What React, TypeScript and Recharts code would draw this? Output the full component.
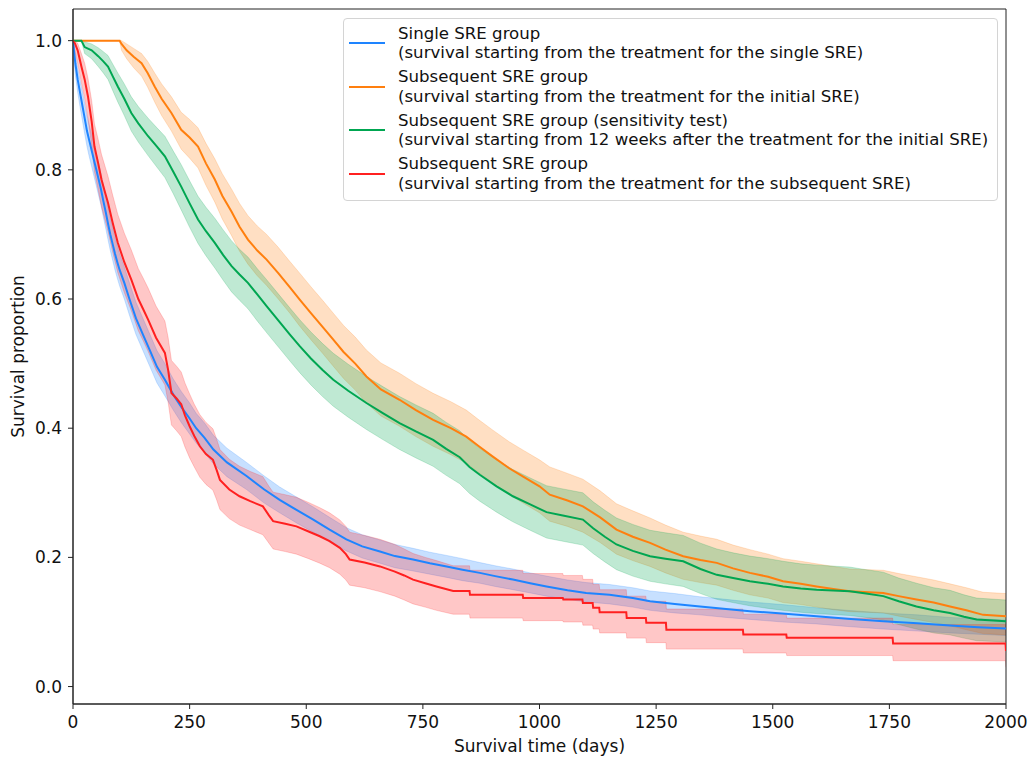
import React from 'react';
import { ComposedChart, Line, Area, XAxis, YAxis, ReferenceArea } from 'recharts';

const xTicks = [0, 250, 500, 750, 1000, 1250, 1500, 1750, 2000];
const yTicks = [0, 0.2, 0.4, 0.6, 0.8, 1.0];
const Y_MIN = -0.027;
const Y_MAX = 1.049;

// Single SRE group
const singleTimes = [0,2,5,10,15,20,25,30,35,40,45,50,55,60,65,70,75,80,85,90,95,100,110,121,135,150,165,180,197,215,232,250,264,282,301,330,372,410,443,480,515,550,586,620,658,690,729,765,801,835,872,905,943,980,1015,1060,1100,1150,1200,1237,1290,1344,1400,1451,1520,1594,1660,1737,1810,1880,1940,2000];
const singleSurv = [1.0,0.985,0.965,0.94,0.92,0.9,0.88,0.86,0.845,0.83,0.815,0.8,0.785,0.77,0.752,0.735,0.717,0.7,0.685,0.67,0.657,0.645,0.625,0.6,0.57,0.545,0.52,0.495,0.475,0.452,0.433,0.415,0.4,0.385,0.367,0.347,0.326,0.305,0.289,0.273,0.2585,0.243,0.228,0.217,0.209,0.202,0.1966,0.191,0.186,0.181,0.176,0.171,0.1656,0.16,0.155,0.149,0.145,0.142,0.137,0.132,0.128,0.124,0.12,0.1166,0.113,0.109,0.105,0.101,0.098,0.0944,0.092,0.09];
const singleLower = [1.0,0.97,0.947,0.92,0.898,0.877,0.856,0.836,0.82,0.805,0.79,0.775,0.76,0.745,0.727,0.71,0.692,0.675,0.66,0.645,0.632,0.62,0.6,0.575,0.545,0.52,0.495,0.47,0.45,0.428,0.409,0.391,0.377,0.362,0.345,0.325,0.305,0.284,0.269,0.253,0.239,0.224,0.21,0.199,0.191,0.184,0.179,0.174,0.169,0.164,0.16,0.155,0.15,0.145,0.14,0.135,0.131,0.128,0.123,0.118,0.114,0.111,0.107,0.104,0.1,0.097,0.093,0.089,0.086,0.083,0.081,0.079];
const singleUpper = [1.0,0.995,0.98,0.958,0.94,0.922,0.903,0.884,0.869,0.855,0.84,0.825,0.81,0.795,0.777,0.76,0.742,0.725,0.71,0.695,0.682,0.67,0.65,0.625,0.595,0.57,0.545,0.52,0.5,0.476,0.457,0.439,0.423,0.408,0.389,0.369,0.347,0.326,0.309,0.293,0.278,0.262,0.246,0.235,0.227,0.22,0.214,0.208,0.203,0.198,0.192,0.187,0.182,0.176,0.171,0.165,0.161,0.158,0.153,0.148,0.144,0.139,0.135,0.131,0.127,0.122,0.118,0.114,0.111,0.107,0.105,0.103];

// Subsequent SRE group, from initial SRE
const initialTimes = [0,100,104,115,130,147,160,175,190,211,232,250,268,285,304,320,340,357,375,395,415,440,465,486,510,535,558,580,605,629,660,700,735,772,810,843,870,900,935,965,1000,1022,1060,1093,1130,1165,1200,1237,1270,1308,1345,1380,1415,1451,1490,1522,1560,1594,1630,1665,1737,1770,1808,1845,1880,1915,1951,2000];
const initialSurv = [1.0,1.0,0.995,0.985,0.975,0.965,0.95,0.929,0.91,0.888,0.862,0.85,0.836,0.81,0.785,0.76,0.735,0.712,0.692,0.675,0.661,0.64,0.618,0.599,0.578,0.557,0.537,0.518,0.5,0.48,0.46,0.444,0.428,0.413,0.4,0.387,0.372,0.356,0.338,0.325,0.31,0.297,0.288,0.279,0.262,0.243,0.232,0.2224,0.212,0.2017,0.196,0.1915,0.183,0.176,0.17,0.163,0.159,0.155,0.151,0.1475,0.145,0.14,0.1347,0.13,0.124,0.118,0.111,0.109];
const initialLower = [1.0,1.0,0.985,0.972,0.958,0.945,0.928,0.905,0.884,0.86,0.832,0.818,0.803,0.776,0.75,0.724,0.698,0.674,0.654,0.636,0.621,0.6,0.578,0.558,0.537,0.516,0.496,0.477,0.459,0.439,0.419,0.403,0.387,0.372,0.359,0.346,0.331,0.315,0.297,0.284,0.269,0.256,0.248,0.239,0.223,0.205,0.195,0.186,0.176,0.166,0.161,0.157,0.149,0.142,0.137,0.13,0.127,0.123,0.119,0.116,0.114,0.109,0.104,0.099,0.094,0.088,0.082,0.08];
const initialUpper = [1.0,1.0,1.0,0.995,0.988,0.98,0.968,0.95,0.933,0.913,0.889,0.878,0.865,0.841,0.817,0.794,0.77,0.748,0.729,0.713,0.7,0.68,0.658,0.64,0.619,0.598,0.578,0.559,0.541,0.521,0.501,0.485,0.469,0.454,0.441,0.428,0.413,0.397,0.379,0.366,0.351,0.34,0.33,0.321,0.303,0.283,0.272,0.261,0.25,0.239,0.233,0.228,0.219,0.212,0.205,0.198,0.194,0.19,0.186,0.182,0.18,0.175,0.17,0.165,0.159,0.153,0.146,0.144];

// Subsequent SRE group, sensitivity test
const sensTimes = [0,18,25,40,54,65,75,85,96,110,125,140,161,180,197,215,232,250,268,285,304,322,340,357,375,395,415,440,465,486,510,535,558,590,629,665,700,735,772,800,829,850,872,908,943,980,1015,1050,1093,1115,1140,1165,1200,1237,1270,1308,1345,1380,1415,1451,1490,1522,1560,1594,1665,1700,1737,1770,1808,1845,1880,1910,1937,2000];
const sensSurv = [1.0,1.0,0.99,0.985,0.976,0.968,0.96,0.945,0.929,0.91,0.888,0.872,0.852,0.836,0.821,0.797,0.774,0.748,0.723,0.705,0.687,0.668,0.651,0.638,0.625,0.607,0.589,0.567,0.545,0.527,0.508,0.49,0.475,0.458,0.439,0.423,0.408,0.395,0.382,0.368,0.355,0.34,0.328,0.31,0.2946,0.282,0.27,0.265,0.2585,0.245,0.232,0.22,0.21,0.2017,0.198,0.194,0.182,0.173,0.168,0.163,0.159,0.155,0.152,0.15,0.1475,0.144,0.14,0.132,0.124,0.118,0.114,0.108,0.1037,0.101];
const sensLower = [1.0,1.0,0.98,0.972,0.96,0.95,0.94,0.923,0.905,0.884,0.86,0.843,0.822,0.804,0.788,0.763,0.738,0.711,0.686,0.667,0.648,0.629,0.611,0.598,0.585,0.566,0.548,0.526,0.504,0.486,0.467,0.449,0.434,0.417,0.398,0.382,0.367,0.354,0.341,0.327,0.314,0.299,0.287,0.27,0.255,0.242,0.23,0.225,0.219,0.206,0.193,0.181,0.171,0.163,0.159,0.155,0.144,0.135,0.13,0.125,0.121,0.118,0.115,0.113,0.11,0.107,0.103,0.096,0.089,0.083,0.08,0.075,0.071,0.069];
const sensUpper = [1.0,1.0,0.998,0.995,0.989,0.983,0.977,0.964,0.95,0.933,0.913,0.898,0.88,0.865,0.852,0.829,0.808,0.783,0.759,0.742,0.725,0.707,0.69,0.677,0.665,0.647,0.63,0.608,0.586,0.568,0.549,0.531,0.516,0.499,0.48,0.464,0.449,0.436,0.423,0.409,0.396,0.381,0.369,0.351,0.336,0.323,0.311,0.306,0.3,0.286,0.273,0.261,0.251,0.242,0.238,0.234,0.222,0.213,0.207,0.202,0.198,0.194,0.19,0.188,0.185,0.181,0.177,0.168,0.16,0.153,0.149,0.142,0.137,0.134];

// Subsequent SRE group, from subsequent SRE (late part listed as explicit steps)
const subTimes = [0,4,10,18,25,32,40,46,54,61,68,75,85,96,110,125,140,150,161,178,197,204,211,222,232,240,250,260,272,285,300,308,315,335,357,380,407,420,429,455,479,505,529,550,572,585,593,625,658,690,710,729,755,779,815,850,851,964,965,1050,1051,1092,1093,1114,1115,1128,1129,1186,1187,1228,1229,1271,1272,1436,1437,1529,1530,1757,1758,1999,2000];
const subSurv = [1.0,0.996,0.985,0.96,0.94,0.914,0.875,0.836,0.81,0.785,0.767,0.749,0.718,0.687,0.657,0.63,0.6,0.585,0.568,0.54,0.5166,0.49,0.4546,0.446,0.437,0.42,0.403,0.388,0.372,0.36,0.351,0.335,0.32,0.305,0.2946,0.287,0.279,0.265,0.256,0.252,0.248,0.24,0.2327,0.225,0.2147,0.205,0.1966,0.192,0.186,0.178,0.172,0.1656,0.16,0.155,0.148,0.148,0.142,0.142,0.137,0.137,0.1347,0.1347,0.1295,0.1295,0.122,0.122,0.115,0.115,0.106,0.106,0.0986,0.0986,0.088,0.088,0.0805,0.0805,0.0754,0.0754,0.0666,0.0666,0.055];
const subLower = [1.0,0.985,0.965,0.935,0.91,0.88,0.838,0.797,0.769,0.743,0.724,0.705,0.673,0.641,0.61,0.582,0.551,0.536,0.519,0.49,0.467,0.44,0.405,0.396,0.387,0.371,0.354,0.34,0.324,0.313,0.304,0.289,0.274,0.26,0.25,0.243,0.235,0.222,0.213,0.209,0.205,0.198,0.191,0.184,0.174,0.165,0.157,0.153,0.147,0.14,0.134,0.128,0.123,0.118,0.112,0.112,0.106,0.106,0.102,0.102,0.1,0.1,0.095,0.095,0.089,0.089,0.083,0.083,0.075,0.075,0.068,0.068,0.058,0.058,0.052,0.052,0.048,0.048,0.04,0.04,0.03];
const subUpper = [1.0,1.0,0.996,0.98,0.965,0.942,0.907,0.871,0.847,0.824,0.807,0.79,0.761,0.731,0.702,0.676,0.647,0.633,0.617,0.589,0.566,0.54,0.505,0.496,0.487,0.47,0.453,0.437,0.421,0.409,0.399,0.383,0.367,0.352,0.341,0.333,0.325,0.31,0.301,0.297,0.293,0.285,0.277,0.269,0.258,0.248,0.239,0.234,0.228,0.22,0.213,0.206,0.2,0.195,0.187,0.187,0.18,0.18,0.175,0.175,0.172,0.172,0.166,0.166,0.158,0.158,0.15,0.15,0.14,0.14,0.132,0.132,0.12,0.12,0.112,0.112,0.106,0.106,0.096,0.096,0.083];

const seriesNames = [
  ['Single SRE group', '(survival starting from the treatment for the single SRE)'],
  ['Subsequent SRE group', '(survival starting from the treatment for the initial SRE)'],
  ['Subsequent SRE group (sensitivity test)', '(survival starting from 12 weeks after the treatment for the initial SRE)'],
  ['Subsequent SRE group', '(survival starting from the treatment for the subsequent SRE)'],
];
const seriesColors = ['#1e84ff', '#ff7f0e', '#00a651', '#ff2020'];

const build = (t: number[], s: number[], lo: number[], hi: number[]) =>
  t.map((x, i) => ({ t: x, s: s[i], band: [lo[i], hi[i]] }));

const seriesData = [
  build(singleTimes, singleSurv, singleLower, singleUpper),
  build(initialTimes, initialSurv, initialLower, initialUpper),
  build(sensTimes, sensSurv, sensLower, sensUpper),
  build(subTimes, subSurv, subLower, subUpper),
];

const FONT = 'DejaVu Sans';
const AXIS_FS = 17;

const XTitle = (props: any) => {
  const vb = (props && props.viewBox) || { x: 73, y: 704, width: 933, height: 56 };
  return (
    <text x={vb.x + vb.width / 2} y={vb.y + 48} textAnchor="middle" fill="#111" fontSize={AXIS_FS} fontFamily={FONT}>
      Survival time (days)
    </text>
  );
};

const YTitle = (props: any) => {
  const vb = (props && props.viewBox) || { x: 0, y: 9, width: 73, height: 695 };
  const cx = 24;
  const cy = vb.y + vb.height / 2;
  return (
    <text x={cx} y={cy} transform={`rotate(-90 ${cx} ${cy})`} textAnchor="middle" fill="#111" fontSize={AXIS_FS} fontFamily={FONT}>
      Survival proportion
    </text>
  );
};

export default function App() {
  return (
    <div style={{ position: 'absolute', left: 0, top: 0, width: 1032, height: 760, background: '#fff' }}>
      <ComposedChart width={1032} height={760} margin={{ top: 9, right: 26, bottom: 0, left: 0 }}>
        <XAxis
          dataKey="t"
          type="number"
          domain={[0, 2000]}
          ticks={xTicks}
          interval={0}
          allowDataOverflow
          height={56}
          tickSize={5}
          tickMargin={7}
          stroke="#222"
          tick={{ fill: '#111', fontSize: AXIS_FS, fontFamily: FONT }}
          label={XTitle}
        />
        <YAxis
          type="number"
          domain={[Y_MIN, Y_MAX]}
          ticks={yTicks}
          interval={0}
          allowDataOverflow
          width={73}
          tickSize={5}
          tickMargin={6}
          stroke="#222"
          tickFormatter={(v: number) => v.toFixed(1)}
          tick={{ fill: '#111', fontSize: AXIS_FS, fontFamily: FONT }}
          label={YTitle}
        />
        {seriesData.map((d, i) => (
          <Area
            key={'band' + i}
            data={d}
            dataKey="band"
            type="linear"
            fill={seriesColors[i]}
            fillOpacity={0.25}
            stroke={seriesColors[i]}
            strokeOpacity={0.2}
            strokeWidth={1}
            dot={false}
            activeDot={false}
            isAnimationActive={false}
          />
        ))}
        {seriesData.map((d, i) => (
          <Line
            key={'line' + i}
            data={d}
            dataKey="s"
            type="linear"
            stroke={seriesColors[i]}
            strokeWidth={2}
            dot={false}
            activeDot={false}
            isAnimationActive={false}
          />
        ))}
        <ReferenceArea x1={0} x2={2000} y1={Y_MIN} y2={Y_MAX} fill="none" stroke="#222" strokeWidth={1} ifOverflow="visible" />
      </ComposedChart>
      <div
        style={{
          position: 'absolute',
          left: 343,
          top: 18,
          width: 655,
          height: 183,
          boxSizing: 'border-box',
          border: '1px solid #d4d4d4',
          borderRadius: 4,
          background: 'rgba(255,255,255,0.8)',
          fontFamily: FONT,
          fontSize: 16.6,
          color: '#111',
        }}
      >
        {seriesNames.map((lines, i) => (
          <div key={i} style={{ position: 'absolute', left: 0, top: 4.5 + i * 43.5, width: '100%' }}>
            <div style={{ position: 'absolute', left: 5, top: 18.5, width: 36, height: 2, background: seriesColors[i] }} />
            <div style={{ position: 'absolute', left: 54, top: 0, lineHeight: '19.5px', whiteSpace: 'nowrap' }}>
              <div>{lines[0]}</div>
              <div>{lines[1]}</div>
            </div>
          </div>
        ))}
      </div>
    </div>
  );
}
